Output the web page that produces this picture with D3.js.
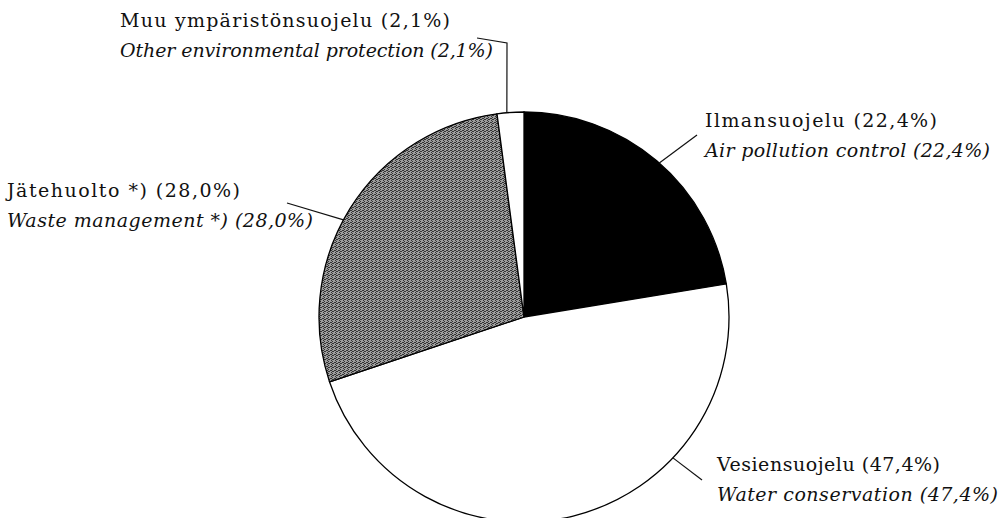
<!DOCTYPE html>
<html>
<head>
	<meta charset="utf-8">
	<title>Ympäristönsuojelu</title>
	<script src="https://cdn.jsdelivr.net/npm/d3@7/dist/d3.min.js"></script>
	<style type="text/css">
		body { margin: 0; background: #fff; }
		.leader { fill: none; stroke: #111; stroke-width: 1.2; }
	</style>
</head>
<body>
	<script type="text/javascript">
		// data
		var keys = ["ilma", "vesi", "jate", "muu"];
		var shares = [22.4, 47.4, 28.0, 2.1];
		var namesFi = ["Ilmansuojelu (22,4%)", "Vesiensuojelu (47,4%)", "Jätehuolto *) (28,0%)", "Muu ympäristönsuojelu (2,1%)"];
		var namesEn = ["Air pollution control (22,4%)", "Water conservation (47,4%)", "Waste management *) (28,0%)", "Other environmental protection (2,1%)"];
		var fills = ["#000", "#fff", "url(#stipple)", "#fff"];

		// label layout: text x, first baseline y, elbow point, angle (deg) where leader meets the pie
		var labelX = [705, 717, 7, 120];
		var labelY = [127, 471, 197, 27];
		var elbowX = [697, 702, 287, 507];
		var elbowY = [135, 480, 203, 43];
		var kneeX = [null, null, null, 477];
		var kneeY = [null, null, null, 38];
		var hitAngle = [41.3, 133.4, 298.3, 355.2];
		var widthFi = [232, 223, 233, 330];
		var widthEn = [285, 281, 306, 373];

		var width = 1004,
			height = 518,
			cx = 524,
			cy = 317,
			radius = 205,
			lineGap = 30,
			fontStack = "DejaVu Serif";

		var svg = d3.select("body")
					.append("svg")
					.attr("width", width)
					.attr("height", height);

		// stippled grey like the printed original
		var pat = svg.append("defs").append("pattern")
			.attr("id", "stipple")
			.attr("width", 4)
			.attr("height", 4)
			.attr("patternUnits", "userSpaceOnUse");
		pat.append("rect").attr("width", 4).attr("height", 4).attr("fill", "#9c9c9c");
		[[0, 0], [2, 1], [1, 2], [3, 3], [3, 1], [0, 2]].forEach(function (p) {
			pat.append("rect").attr("x", p[0]).attr("y", p[1]).attr("width", 1).attr("height", 1).attr("fill", "#333");
		});

		var pie = d3.pie().sort(null).value(function (d) { return d; });
		var arcs = pie(shares);
		var arc = d3.arc().innerRadius(0).outerRadius(radius);

		var g = svg.append("g").attr("transform", "translate(" + cx + "," + cy + ")");
		g.selectAll("path")
			.data(arcs)
			.enter()
			.append("path")
			.attr("d", arc)
			.attr("fill", function (d, i) { return fills[i]; })
			.attr("stroke", "#000")
			.attr("stroke-width", 1.3);

		// leader lines
		keys.forEach(function (k, i) {
			var a = hitAngle[i] * Math.PI / 180;
			var ex = cx + radius * Math.sin(a),
				ey = cy - radius * Math.cos(a);
			var pts = [[ex, ey], [elbowX[i], elbowY[i]]];
			if (kneeX[i] !== null) pts.push([kneeX[i], kneeY[i]]);
			svg.append("path")
				.attr("class", "leader")
				.attr("d", d3.line()(pts));
		});

		// labels
		keys.forEach(function (k, i) {
			svg.append("text")
				.attr("x", labelX[i])
				.attr("y", labelY[i])
				.attr("font-family", fontStack)
				.attr("font-size", 19)
				.attr("fill", "#111")
				.attr("textLength", widthFi[i])
				.attr("lengthAdjust", "spacing")
				.text(namesFi[i]);
			svg.append("text")
				.attr("x", labelX[i])
				.attr("y", labelY[i] + lineGap)
				.attr("font-family", fontStack)
				.attr("font-style", "italic")
				.attr("font-size", 19)
				.attr("fill", "#111")
				.attr("textLength", widthEn[i])
				.attr("lengthAdjust", "spacing")
				.text(namesEn[i]);
		});
	</script>
</body>
</html>
